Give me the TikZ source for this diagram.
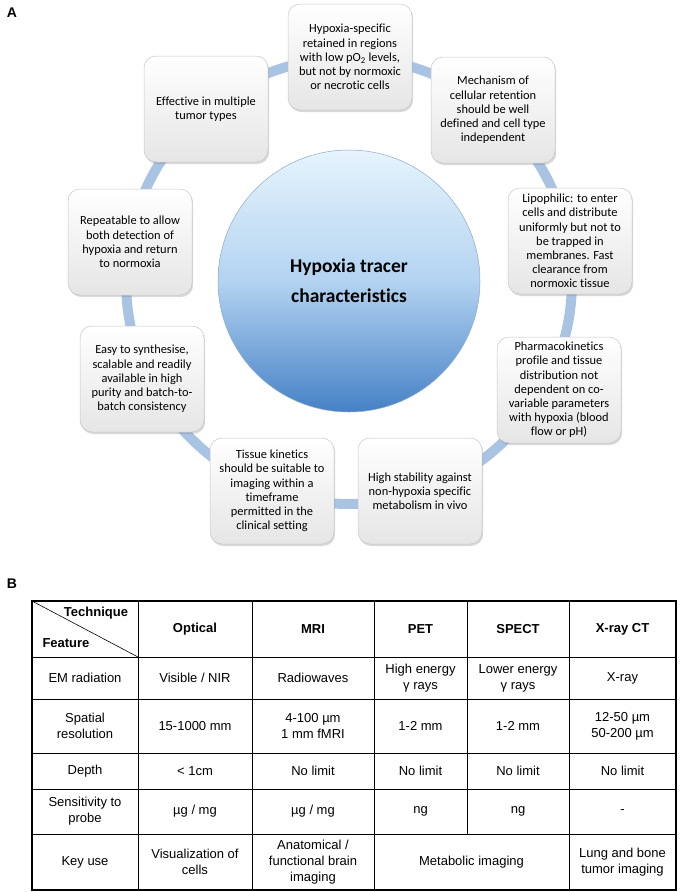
\documentclass[tikz,border=0pt]{standalone}
\usepackage{fontspec}
\setmainfont{Carlito}[Ligatures=NoCommon]
\newfontfamily\tabfont{Liberation Sans}
\usepackage{tikz}
\usetikzlibrary{shadows, calc}

\definecolor{ringblue}{HTML}{A9C3E3}
\definecolor{coretop}{HTML}{E6F4FD}
\definecolor{coremid}{HTML}{B3D3F1}
\definecolor{corebot}{HTML}{4581C6}
\definecolor{coreedge}{HTML}{8FA9C6}

\begin{document}
\begin{tikzpicture}[
        x=1pt, y=-1pt,
        card/.style={rectangle, rounded corners=12pt, draw=gray!45, line width=0.5pt,
            top color=white, bottom color=gray!20, minimum width=124pt, minimum height=106pt,
            align=center, inner sep=2pt, font=\fontsize{12.4}{14.2}\selectfont,
            drop shadow={shadow xshift=1.2pt, shadow yshift=-2pt, opacity=0.3}},
        core/.style={circle, draw=coreedge, line width=0.5pt, minimum size=262pt,
            top color=coretop, bottom color=corebot, middle color=coremid,
            align=center, font=\fontsize{19.5}{30}\selectfont\bfseries},
        ring/.style={draw=ringblue, line width=10pt},
        cell/.style={align=center, font=\tabfont\fontsize{13}{16}\selectfont},
        head/.style={align=center, font=\tabfont\bfseries\fontsize{13}{16}\selectfont},
        panel/.style={font=\tabfont\bfseries\fontsize{14}{16}\selectfont}
    ]
        \useasboundingbox (0,0) rectangle (684,892);

        % Panel A
        \node[panel] (labA) at (12,13) {A};
        \node[core] (tracer) at (349,281) {Hypoxia tracer\\characteristics};
        \draw[ring] (tracer.center) circle[radius=223];

        \node[card] (specific) at (350,57) {Hypoxia-specific\\retained in regions\\with low pO\textsubscript{2} levels,\\but not by normoxic\\or necrotic cells};
        \node[card] (mechanism) at (493,110) {Mechanism of\\cellular retention\\should be well\\defined and cell type\\independent};
        \node[card] (lipophilic) at (570,241) {Lipophilic: to enter\\cells and distribute\\uniformly but not to\\be trapped in\\membranes. Fast\\clearance from\\normoxic tissue};
        \node[card] (pharma) at (559,390) {Pharmacokinetics\\profile and tissue\\distribution not\\dependent on co-\\variable parameters\\with hypoxia (blood\\flow or pH)};
        \node[card] (stability) at (420,491) {High stability against\\non-hypoxia specific\\metabolism in vivo};
        \node[card] (kinetics) at (272,491) {Tissue kinetics\\should be suitable to\\imaging within a\\timeframe\\permitted in the\\clinical setting};
        \node[card] (synthesis) at (142,379) {Easy to synthesise,\\scalable and readily\\available in high\\purity and batch-to-\\batch consistency};
        \node[card] (repeat) at (130,242) {Repeatable to allow\\both detection of\\hypoxia and return\\to normoxia};
        \node[card] (effective) at (206,109) {Effective in multiple\\tumor types};

        % Panel B
        \node[panel] (labB) at (12,584) {B};

        % Table grid
        \draw[line width=1.6pt] (32,601) rectangle (676,890);
        \foreach \y in {657,699,753,789,834}
            \draw[line width=1pt] (32,\y) -- (676,\y);
        \foreach \x in {138,252,374,569}
            \draw[line width=1pt] (\x,601) -- (\x,890);
        \draw[line width=1pt] (467,601) -- (467,834);
        \draw[line width=0.6pt] (32,601) -- (138,657);

        % Header row
        \node[head] (technique) at (96,613) {Technique};
        \node[head] (feature) at (66,643) {Feature};
        \node[head] (optical) at (195,629) {Optical};
        \node[head] (mri) at (313,629) {MRI};
        \node[head] (pet) at (420.5,629) {PET};
        \node[head] (spect) at (518,629) {SPECT};
        \node[head] (ct) at (622.5,629) {X-ray CT};

        % EM radiation
        \node[cell] (em) at (85,678) {EM radiation};
        \node[cell] (emopt) at (195,678) {Visible / NIR};
        \node[cell] (emmri) at (313,678) {Radiowaves};
        \node[cell] (empet) at (420.5,678) {High energy\\γ rays};
        \node[cell] (emspect) at (518,678) {Lower energy\\γ rays};
        \node[cell] (emct) at (622.5,678) {X-ray};

        % Spatial resolution
        \node[cell] (res) at (85,726) {Spatial\\resolution};
        \node[cell] (resopt) at (195,726) {15-1000 mm};
        \node[cell] (resmri) at (313,726) {4-100 µm\\1 mm fMRI};
        \node[cell] (respet) at (420.5,726) {1-2 mm};
        \node[cell] (resspect) at (518,726) {1-2 mm};
        \node[cell] (resct) at (622.5,726) {12-50 µm\\50-200 µm};

        % Depth
        \node[cell] (depth) at (85,771) {Depth};
        \node[cell] (depthopt) at (195,771) {< 1cm};
        \node[cell] (depthmri) at (313,771) {No limit};
        \node[cell] (depthpet) at (420.5,771) {No limit};
        \node[cell] (depthspect) at (518,771) {No limit};
        \node[cell] (depthct) at (622.5,771) {No limit};

        % Sensitivity
        \node[cell] (sens) at (85,811.5) {Sensitivity to\\probe};
        \node[cell] (sensopt) at (195,811.5) {µg / mg};
        \node[cell] (sensmri) at (313,811.5) {µg / mg};
        \node[cell] (senspet) at (420.5,811.5) {ng};
        \node[cell] (sensspect) at (518,811.5) {ng};
        \node[cell] (sensct) at (622.5,811.5) {-};

        % Key use
        \node[cell] (use) at (85,862) {Key use};
        \node[cell] (useopt) at (195,862) {Visualization of\\cells};
        \node[cell] (usemri) at (313,862) {Anatomical /\\functional brain\\imaging};
        \node[cell] (usenuc) at (471.5,862) {Metabolic imaging};
        \node[cell] (usect) at (622.5,862) {Lung and bone\\tumor imaging};

    \end{tikzpicture}
\end{document}
